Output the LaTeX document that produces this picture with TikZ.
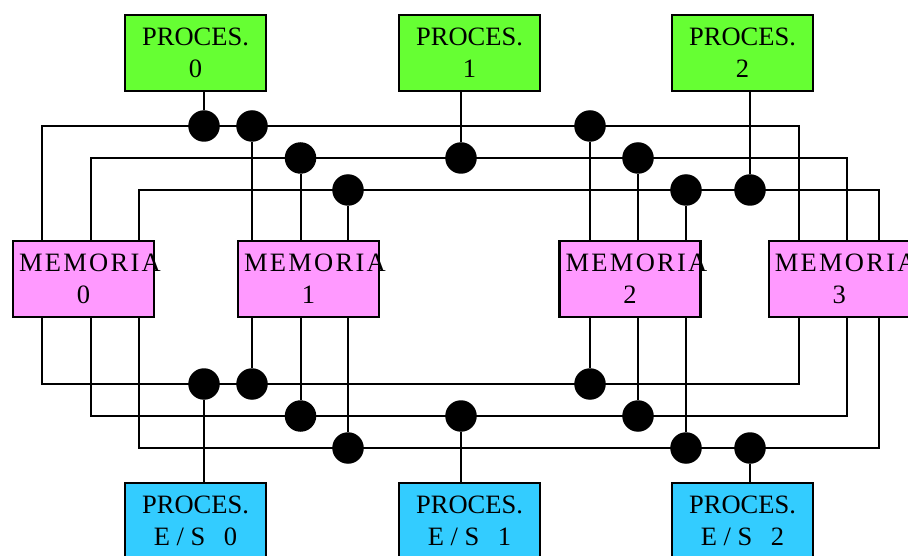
\documentclass[tikz,border=0pt]{standalone}
\usepackage{fontspec}
\setmainfont{Liberation Serif}
\definecolor{procgreen}{HTML}{66FF33}
\definecolor{mempink}{HTML}{FF99FF}
\definecolor{iocyan}{HTML}{33CCFF}
\newcommand\memword{M\kern2.25pt E\kern2.25pt M\kern2.25pt O\kern2.25pt R\kern2.25pt I\kern2.25pt A}
\newcommand\memlabel[1]{\makebox[0pt][c]{\kern13pt\memword}\\#1}
\tikzset{
  unitbox/.style={draw, line width=2.4pt, inner sep=0pt, minimum width=141pt, minimum height=76pt,
    align=center, font=\fontsize{26.5}{32}\selectfont},
  procbox/.style={unitbox, fill=procgreen},
  membox/.style={unitbox, fill=mempink},
  iobox/.style={unitbox, fill=iocyan},
  joint/.style={circle, fill=black, inner sep=0pt, minimum size=31.5pt},
  wire/.style={line width=2pt}
}
\begin{document}
\begin{tikzpicture}[x=1pt, y=-1pt]
\useasboundingbox (0,0) rectangle (908,556);
\clip (0,0) rectangle (908,556);
% boxes
\node[procbox] (p0) at (195.5,53) {PROCES.\\0};
\node[procbox] (p1) at (469.5,53) {PROCES.\\1};
\node[procbox] (p2) at (742.5,53) {PROCES.\\2};
\node[membox] (m0) at (83.5,279) {\memlabel{0}};
\node[membox] (m1) at (308.5,279) {\memlabel{1}};
\node[membox] (m2) at (630,279) {\memlabel{2}};
\node[membox] (m3) at (839.2,279) {\memlabel{3}};
\node[iobox] (e0) at (195.5,521) {PROCES.\\E / S\hspace{18.5pt}0};
\node[iobox] (e1) at (469.5,521) {PROCES.\\E / S\hspace{18.5pt}1};
\node[iobox] (e2) at (742.5,521) {PROCES.\\E / S\hspace{18.5pt}2};
% bus corners
\coordinate (tAL) at (42,126);  \coordinate (tAR) at (799,126);
\coordinate (tBL) at (91,158);  \coordinate (tBR) at (847,158);
\coordinate (tCL) at (139,190); \coordinate (tCR) at (879,190);
\coordinate (bAL) at (42,384);  \coordinate (bAR) at (799,384);
\coordinate (bBL) at (91,416);  \coordinate (bBR) at (847,416);
\coordinate (bCL) at (139,448); \coordinate (bCR) at (879,448);
% joints
\node[joint] (tA1) at (204,126) {};
\node[joint] (tA2) at (252,126) {};
\node[joint] (tA3) at (590,126) {};
\node[joint] (tB1) at (300.5,158) {};
\node[joint] (tB2) at (461,158) {};
\node[joint] (tB3) at (638,158) {};
\node[joint] (tC1) at (348,190) {};
\node[joint] (tC2) at (686,190) {};
\node[joint] (tC3) at (750,190) {};
\node[joint] (bA1) at (204,384) {};
\node[joint] (bA2) at (252,384) {};
\node[joint] (bA3) at (590,384) {};
\node[joint] (bB1) at (300.5,416) {};
\node[joint] (bB2) at (461,416) {};
\node[joint] (bB3) at (638,416) {};
\node[joint] (bC1) at (348,448) {};
\node[joint] (bC2) at (686,448) {};
\node[joint] (bC3) at (750,448) {};
% buses
\draw[wire] (m0.north -| tAL) -- (tAL) -- (tAR) -- (m3.north -| tAR);
\draw[wire] (m0.north -| tBL) -- (tBL) -- (tBR) -- (m3.north -| tBR);
\draw[wire] (m0.north -| tCL) -- (tCL) -- (tCR) -- (m3.north -| tCR);
\draw[wire] (m0.south -| bAL) -- (bAL) -- (bAR) -- (m3.south -| bAR);
\draw[wire] (m0.south -| bBL) -- (bBL) -- (bBR) -- (m3.south -| bBR);
\draw[wire] (m0.south -| bCL) -- (bCL) -- (bCR) -- (m3.south -| bCR);
% drops
\draw[wire] (p0.south -| tA1) -- (tA1);
\draw[wire] (p1.south -| tB2) -- (tB2);
\draw[wire] (p2.south -| tC3) -- (tC3);
\draw[wire] (m1.north -| tA2) -- (tA2);
\draw[wire] (m1.north -| tB1) -- (tB1);
\draw[wire] (m1.north -| tC1) -- (tC1);
\draw[wire] (m2.north -| tA3) -- (tA3);
\draw[wire] (m2.north -| tB3) -- (tB3);
\draw[wire] (m2.north -| tC2) -- (tC2);
\draw[wire] (m1.south -| bA2) -- (bA2);
\draw[wire] (m1.south -| bB1) -- (bB1);
\draw[wire] (m1.south -| bC1) -- (bC1);
\draw[wire] (m2.south -| bA3) -- (bA3);
\draw[wire] (m2.south -| bB3) -- (bB3);
\draw[wire] (m2.south -| bC2) -- (bC2);
\draw[wire] (e0.north -| bA1) -- (bA1);
\draw[wire] (e1.north -| bB2) -- (bB2);
\draw[wire] (e2.north -| bC3) -- (bC3);
\end{tikzpicture}
\end{document}
